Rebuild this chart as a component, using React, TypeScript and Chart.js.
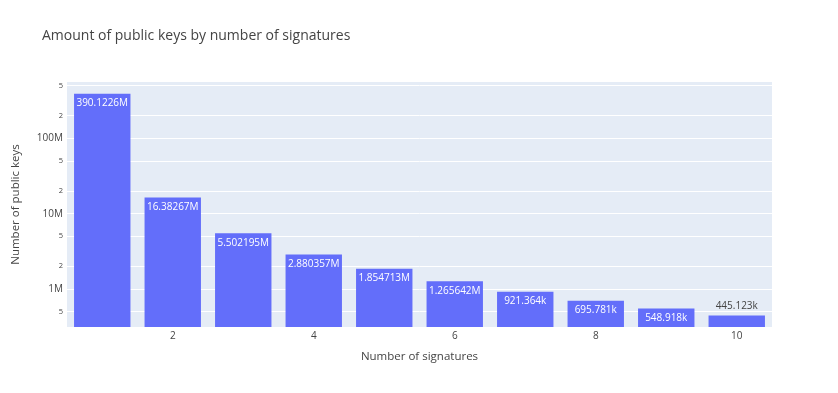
import React, { useEffect, useRef } from "react";
import { Chart, registerables } from "chart.js";

Chart.register(...registerables);

const categories = [1, 2, 3, 4, 5, 6, 7, 8, 9, 10];
const publicKeys = [390122600, 16382670, 5502195, 2880357, 1854713, 1265642, 921364, 695781, 548918, 445123];
const barLabels = ["390.1226M", "16.38267M", "5.502195M", "2.880357M", "1.854713M", "1.265642M", "921.364k", "695.781k", "548.918k", "445.123k"];
const yTickValues = [5e5, 1e6, 2e6, 5e6, 1e7, 2e7, 5e7, 1e8, 2e8, 5e8];
const yTickLabels = ["5", "1M", "2", "5", "10M", "2", "5", "100M", "2", "5"];
const majorTicks = [1e6, 1e7, 1e8];

const TEXT = "#444";
const FONT = "'Open Sans', sans-serif";

const bgPlugin = {
  id: "bg",
  beforeDraw(chart: any) {
    const { ctx, chartArea } = chart;
    ctx.save();
    ctx.fillStyle = "#E5ECF6";
    ctx.fillRect(chartArea.left, chartArea.top, chartArea.right - chartArea.left, chartArea.bottom - chartArea.top);
    ctx.fillStyle = TEXT;
    ctx.font = `14px ${FONT}`;
    ctx.textBaseline = "middle";
    ctx.textAlign = "left";
    ctx.fillText("Amount of public keys by number of signatures", 42, 36);
    ctx.restore();
  },
};

const labelPlugin = {
  id: "barLabels",
  afterDatasetsDraw(chart: any) {
    const { ctx } = chart;
    const meta = chart.getDatasetMeta(0);
    ctx.save();
    ctx.textAlign = "center";
    ctx.textBaseline = "middle";
    meta.data.forEach((bar: any, i: number) => {
      const text = barLabels[i];
      let size = 10;
      ctx.font = `${size}px ${FONT}`;
      const w = ctx.measureText(text).width;
      const avail = bar.width - 4;
      const barH = bar.base - bar.y;
      if (barH > 15) {
        if (w > avail) size = (10 * avail) / w;
        ctx.font = `${size}px ${FONT}`;
        ctx.fillStyle = "#fff";
        ctx.fillText(text, bar.x, bar.y + 9.5);
      } else {
        ctx.fillStyle = TEXT;
        ctx.fillText(text, bar.x, bar.y - 9.5);
      }
    });
    ctx.restore();
  },
};

export default function App() {
  const ref = useRef<HTMLCanvasElement | null>(null);
  useEffect(() => {
    if (!ref.current) return;
    const chart = new Chart(ref.current, {
      type: "bar",
      data: {
        labels: categories.map(String),
        datasets: [
          {
            data: publicKeys,
            backgroundColor: "#636EFA",
            categoryPercentage: 1,
            barPercentage: 0.8,
          },
        ],
      },
      options: {
        responsive: false,
        animation: false,
        layout: { padding: { top: 82, right: 66, left: 0, bottom: 0 } },
        plugins: { legend: { display: false }, tooltip: { enabled: false }, title: { display: false } },
        scales: {
          x: {
            type: "category",
            offset: true,
            grid: { display: false, drawTicks: false },
            border: { display: false },
            ticks: {
              autoSkip: false,
              maxRotation: 0,
              padding: 3,
              color: TEXT,
              font: { family: FONT, size: 10 },
              callback: (_v: any, idx: number) => ((idx + 1) % 2 === 0 ? String(categories[idx]) : ""),
            },
            title: {
              display: true,
              text: "Number of signatures",
              color: TEXT,
              font: { family: FONT, size: 11.5 },
              padding: { top: 0, bottom: 29 },
            },
            afterFit: (s: any) => {
              s.height = 66;
            },
          },
          y: {
            type: "logarithmic",
            min: 3.13e5,
            max: 5.6e8,
            grid: { color: "#ffffff", lineWidth: 1, drawTicks: false },
            border: { display: false },
            afterBuildTicks: (s: any) => {
              s.ticks = yTickValues.map((v) => ({ value: v, major: majorTicks.includes(v) }));
            },
            ticks: {
              padding: 4,
              color: TEXT,
              font: (ctx: any) => ({
                family: FONT,
                size: ctx.tick && majorTicks.includes(ctx.tick.value) ? 10 : 7.5,
              }),
              callback: (v: any) => {
                const i = yTickValues.indexOf(Number(v));
                return i >= 0 ? yTickLabels[i] : "";
              },
            },
            title: {
              display: true,
              text: "Number of public keys",
              color: TEXT,
              font: { family: FONT, size: 11.5 },
              padding: { top: 9, bottom: 0 },
            },
            afterFit: (s: any) => {
              s.width = 67;
            },
          },
        },
      },
      plugins: [bgPlugin, labelPlugin],
    });
    return () => chart.destroy();
  }, []);
  return (
    <div style={{ position: "fixed", left: 0, top: 0, width: 838, height: 393, background: "#fff" }}>
      <canvas ref={ref} width={838} height={393} />
    </div>
  );
}
